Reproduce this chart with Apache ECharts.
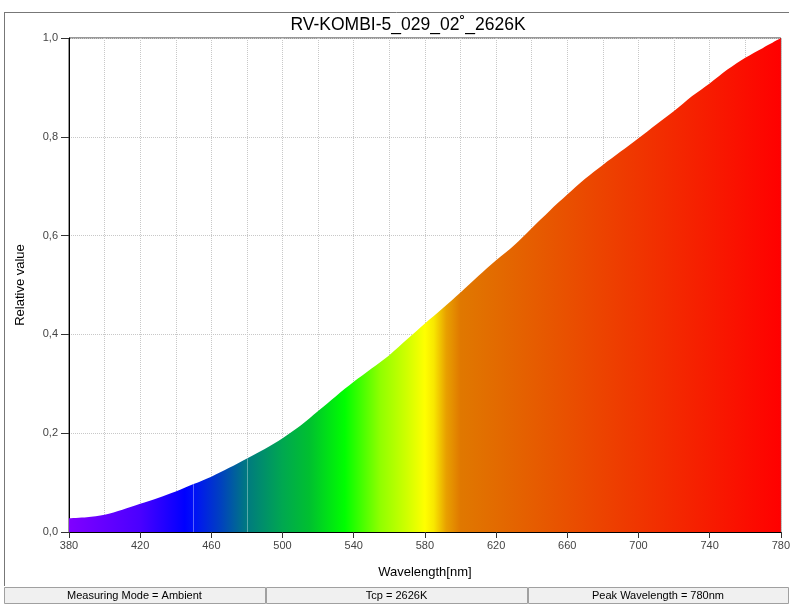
<!DOCTYPE html>
<html>
<head>
<meta charset="utf-8">
<script src="https://cdn.jsdelivr.net/npm/echarts@6/dist/echarts.min.js"></script>
<style>
html,body{margin:0;padding:0;background:#fff;}
#chart{width:793px;height:604px;}
</style>
</head>
<body>
<div id="chart"></div>
<script>
// ---- data ----
const titleText = 'RV-KOMBI-5_029_02\u02DA_2626K';
const xAxisName = 'Wavelength[nm]';
const yAxisName = 'Relative value';
const statusTexts = ['Measuring Mode = Ambient', 'Tcp = 2626K', 'Peak Wavelength = 780nm'];
const wavelengths = [380,390,400,410,420,430,440,450,460,470,480,490,500,510,520,530,540,550,560,570,580,590,600,610,620,630,640,650,660,670,680,690,700,710,720,730,740,750,760,770,780];
const relValues = [0.028,0.030,0.035,0.045,0.057,0.069,0.082,0.097,0.112,0.130,0.149,0.168,0.190,0.215,0.245,0.275,0.304,0.331,0.358,0.390,0.422,0.453,0.485,0.518,0.550,0.580,0.615,0.650,0.683,0.715,0.743,0.770,0.797,0.825,0.852,0.882,0.908,0.936,0.960,0.980,1.000];
// spectrum colour stops (wavelength nm, colour)
const specNm = [380,420,445,450,465,480,500,515,535,555,570,580,585,592,600,630,690,745,780];
const specCol = ['#8000ff','#4a00ff','#0000ff','#0010f8','#0040c0','#007a80','#00a850','#00c030','#00ff00','#90ff00','#d0ff00','#ffff00','#f8e800','#e8a000','#e07800','#e46400','#ee3c00','#f81800','#ff0000'];
// faint boundary lines visible inside the filled area
const boundaryNm = [450, 480];

const xMin = 380, xMax = 780;
const stops = specNm.map((nm, i) => ({offset: (nm - xMin) / (xMax - xMin), color: specCol[i]}));

const chart = echarts.init(document.getElementById('chart'), null, {renderer: 'canvas'});
const font = '"Liberation Sans", Arial, sans-serif';

const statusRects = [[4, 265], [266, 527], [528, 788]];
const graphics = [
  {type: 'line', shape: {x1: 4, y1: 12.5, x2: 789, y2: 12.5}, style: {stroke: '#777', lineWidth: 1}},
  {type: 'line', shape: {x1: 4.5, y1: 12, x2: 4.5, y2: 586}, style: {stroke: '#777', lineWidth: 1}}
];
statusRects.forEach((r, i) => {
  graphics.push({type: 'rect', shape: {x: r[0] + 0.5, y: 587.5, width: r[1] - r[0], height: 16},
    style: {fill: '#f0f0f0', stroke: '#a0a0a0', lineWidth: 1}});
  graphics.push({type: 'text', x: (r[0] + r[1]) / 2, y: 596,
    style: {text: statusTexts[i], font: '11px ' + font, fill: '#000', textAlign: 'center', textVerticalAlign: 'middle'}});
});

chart.setOption({
  animation: false,
  title: {
    text: titleText, left: 403, top: 11, textAlign: 'center',
    textStyle: {fontFamily: font, fontSize: 17.5, fontWeight: 'normal', color: '#000'}
  },
  grid: {left: 69, right: 12, top: 38, bottom: 72, show: true, borderColor: '#333', borderWidth: 1, backgroundColor: 'transparent'},
  xAxis: {
    type: 'value', min: xMin, max: xMax, interval: 40,
    name: xAxisName, nameLocation: 'middle', nameGap: 34,
    nameTextStyle: {fontFamily: font, fontSize: 13, color: '#000'},
    axisLine: {show: true, lineStyle: {color: '#000', width: 1}},
    axisTick: {show: true, length: 6, lineStyle: {color: '#333'}},
    axisLabel: {fontFamily: font, fontSize: 11, color: '#444', margin: 8},
    splitLine: {show: true, lineStyle: {color: '#c8c8c8', type: [1, 1], width: 1}},
    minorTick: {show: false, splitNumber: 2},
    minorSplitLine: {show: true, lineStyle: {color: '#c8c8c8', type: [1, 1], width: 1}}
  },
  yAxis: {
    type: 'value', min: 0, max: 1, interval: 0.2,
    name: yAxisName, nameLocation: 'middle', nameGap: 42, nameRotate: 90,
    nameTextStyle: {fontFamily: font, fontSize: 13, color: '#000'},
    axisLine: {show: true, lineStyle: {color: '#000', width: 1}},
    axisTick: {show: true, length: 8, lineStyle: {color: '#333'}},
    axisLabel: {fontFamily: font, fontSize: 11, color: '#444', margin: 11,
      formatter: v => v.toFixed(1).replace('.', ',')},
    splitLine: {show: true, lineStyle: {color: '#c8c8c8', type: [1, 1], width: 1}}
  },
  series: [{
    type: 'line',
    data: wavelengths.map((w, i) => [w, relValues[i]]),
    showSymbol: false,
    smooth: 0.3,
    lineStyle: {width: 0},
    areaStyle: {opacity: 1, color: new echarts.graphic.LinearGradient(0, 0, 1, 0, stops, false)},
    z: 3
  }, {
    type: 'line',
    data: [],
    z: 4,
    markLine: {
      silent: true, symbol: 'none', label: {show: false},
      lineStyle: {color: 'rgba(255,255,255,0.35)', type: 'solid', width: 1},
      data: boundaryNm.map(nm => [
        {coord: [nm, 0]},
        {coord: [nm, relValues[wavelengths.indexOf(nm)]]}
      ])
    }
  }],
  graphic: graphics
});
</script>
</body>
</html>
